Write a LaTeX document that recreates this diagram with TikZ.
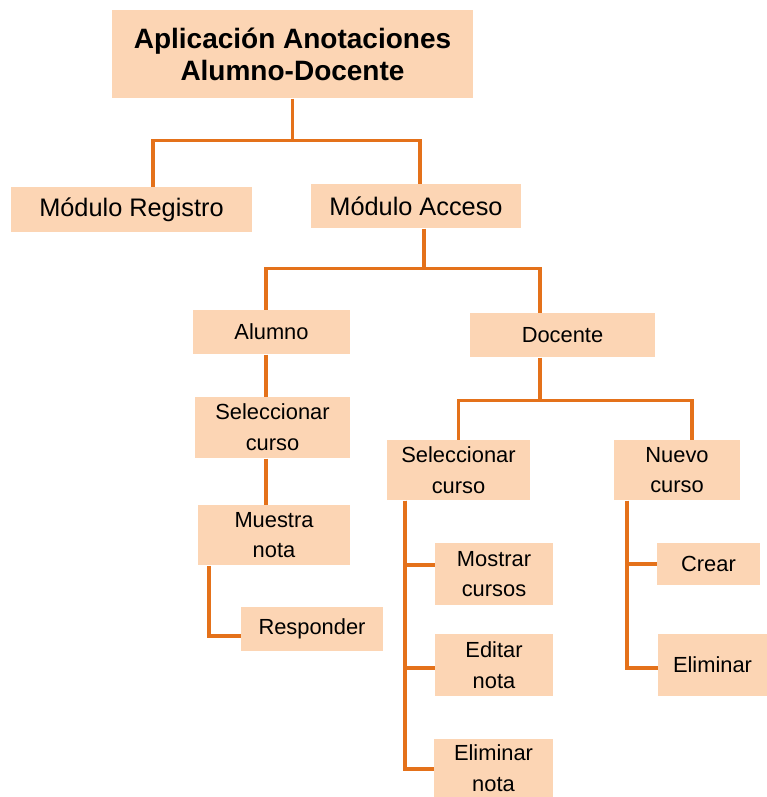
\documentclass[tikz,border=0pt]{standalone}
\usepackage{fontspec}
\setmainfont{Liberation Sans}
\usetikzlibrary{calc}
\definecolor{durazno}{HTML}{FCD5B4}
\definecolor{naranja}{HTML}{E4711A}
\tikzset{every picture/.style={line width=0.75pt}}
\tikzset{caja/.style={fill=durazno,inner sep=0pt,align=center,font=\fontsize{16.4}{23}\selectfont},
	linea/.style={draw=naranja,line width=2.5pt}}

\begin{document}
\begin{tikzpicture}[x=0.75pt,y=-0.75pt]
	\useasboundingbox (0,0) rectangle (767,797);
	% niveles superiores
	\node [caja,minimum width=270.75pt,minimum height=66pt,font=\fontsize{21}{24}\selectfont\bfseries] (app) at (292.5,54) {Aplicación Anotaciones\\Alumno-Docente};
	\node [caja,minimum width=180.75pt,minimum height=33.75pt,font=\fontsize{19}{22}\selectfont] (reg) at (131.5,209.5) {Módulo Registro};
	\node [caja,minimum width=157.5pt,minimum height=33pt,font=\fontsize{19}{22}\selectfont] (acc) at (416,206) {Módulo Acceso};
	\node [caja,minimum width=117.75pt,minimum height=33pt] (alu) at (271.5,332) {Alumno};
	\node [caja,minimum width=138.75pt,minimum height=33pt] (doc) at (562.5,335) {Docente};
	% rama alumno
	\node [caja,minimum width=116.25pt,minimum height=45.75pt] (selA) at (272.5,427.5) {Seleccionar\\curso};
	\node [caja,minimum width=114pt,minimum height=45pt] (mue) at (274,535) {Muestra\\nota};
	\node [caja,minimum width=106.5pt,minimum height=33pt] (resp) at (312,629) {Responder};
	% rama docente
	\node [caja,minimum width=107.25pt,minimum height=45pt] (selD) at (458.5,470) {Seleccionar\\curso};
	\node [caja,minimum width=94.5pt,minimum height=45pt] (nue) at (677,470) {Nuevo\\curso};
	\node [caja,minimum width=88.5pt,minimum height=46.5pt] (most) at (494,574) {Mostrar\\cursos};
	\node [caja,minimum width=88.5pt,minimum height=46.5pt] (edit) at (494,665) {Editar\\nota};
	\node [caja,minimum width=89.25pt,minimum height=43.5pt] (elim) at (493.5,768) {Eliminar\\nota};
	\node [caja,minimum width=77.25pt,minimum height=31.5pt] (crear) at (708.5,564) {Crear};
	\node [caja,minimum width=81.75pt,minimum height=46.5pt] (elimC) at (712.5,665) {Eliminar};

	% conectores
	\draw [linea] (app.south) -- ++(0,42) coordinate (b1);
	\draw [linea] ($(reg.north)+(21.5,0)$) |- (b1) -| ($(acc.north)+(4,0)$);
	\draw [linea] ($(acc.south)+(8,0)$) -- ++(0,40) coordinate (b2);
	\draw [linea] ($(alu.north)+(-5.5,0)$) |- (b2) -| ($(doc.north)+(-22.5,0)$);
	\draw [linea] ($(alu.south)+(-5.5,0)$) -- ($(selA.north)+(-6.5,0)$);
	\draw [linea] ($(selA.south)+(-6.5,0)$) -- ($(mue.north)+(-8,0)$);
	\draw [linea] ($(mue.south)+(-65,0)$) |- ($(resp.west)+(0,7)$);
	\draw [linea] ($(doc.south)+(-22.5,0)$) -- ++(0,43) coordinate (b3);
	\draw [linea] (selD.north) |- (b3) -| ($(nue.north)+(15,0)$);
	\draw [linea] ($(selD.south)+(-53.5,0)$) |- ($(elim.west)+(0,1)$);
	\draw [linea] ($(selD.south)+(-53.5,0)$) |- ($(most.west)+(0,-9)$);
	\draw [linea] ($(selD.south)+(-53.5,0)$) |- ($(edit.west)+(0,3)$);
	\draw [linea] ($(nue.south)+(-50,0)$) |- ($(elimC.west)+(0,3)$);
	\draw [linea] ($(nue.south)+(-50,0)$) |- (crear.west);
\end{tikzpicture}
\end{document}
